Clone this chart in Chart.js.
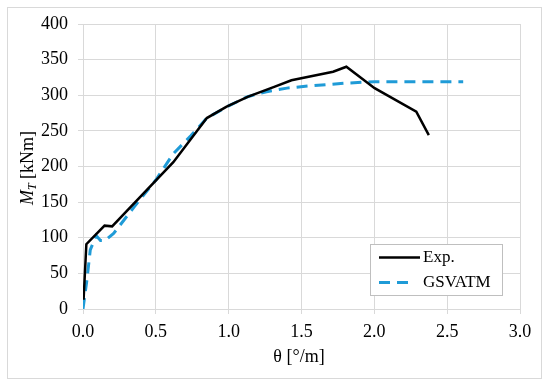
<!DOCTYPE html>
<html>
<head>
<meta charset="utf-8">
<script src="https://cdn.jsdelivr.net/npm/chart.js@4"></script>
<style>
  html, body { margin: 0; padding: 0; background: #fff; }
  #wrap { width: 550px; height: 387px; }
</style>
</head>
<body>
<div id="wrap"><canvas id="c" width="550" height="387"></canvas></div>
<script>
// rotation θ [°/m] and torque M_T [kNm]
var expTheta = [0.004, 0.023, 0.148, 0.20, 0.62, 0.85, 0.986, 1.134, 1.317, 1.431, 1.717, 1.808, 2.002, 2.288, 2.374];
var expMoment = [13, 91, 117, 116, 206, 268, 284, 298, 312, 321, 333, 340, 310, 277, 244];

var gsvTheta = [0, 0.027, 0.05, 0.09, 0.12, 0.15, 0.21, 0.35, 0.5, 0.62, 0.74, 0.85, 1.0, 1.13, 1.26, 1.4, 1.55, 1.8, 2.0, 2.3, 2.61];
var gsvMoment = [0, 41, 83, 103, 96, 96, 106, 143, 181, 218, 243, 268, 285, 298, 305, 310, 313, 317, 319, 319, 319];

var xTicks = [0, 0.5, 1.0, 1.5, 2.0, 2.5, 3.0];
var yTicks = [0, 50, 100, 150, 200, 250, 300, 350, 400];

function pts(xs, ys) {
  return xs.map(function (x, i) { return { x: x, y: ys[i] }; });
}

var serif = '"Liberation Serif", "DejaVu Serif", serif';
var gridCol = '#d9d9d9';

// frame, axis titles and legend box
var decor = {
  id: 'decor',
  afterDraw: function (chart) {
    var ctx = chart.ctx;
    ctx.save();
    ctx.strokeStyle = gridCol;
    ctx.lineWidth = 1;
    ctx.strokeRect(7.5, 7.5, 534, 371);

    // x title
    ctx.fillStyle = '#000';
    ctx.font = '18px ' + serif;
    ctx.textAlign = 'center';
    ctx.textBaseline = 'middle';
    ctx.fillText('θ [°/m]', 299, 357);

    // y title with subscript
    ctx.translate(27, 168);
    ctx.rotate(-Math.PI / 2);
    ctx.textAlign = 'left';
    ctx.textBaseline = 'alphabetic';
    var parts = [
      { t: 'M', f: 'italic 18px ' + serif, dy: 0 },
      { t: 'T', f: 'italic 12px ' + serif, dy: 3 },
      { t: ' [kNm]', f: '18px ' + serif, dy: 0 }
    ];
    var total = 0;
    parts.forEach(function (p) { ctx.font = p.f; total += ctx.measureText(p.t).width; });
    var x = -total / 2;
    parts.forEach(function (p) {
      ctx.font = p.f;
      ctx.fillText(p.t, x, 6 + p.dy);
      x += ctx.measureText(p.t).width;
    });
    ctx.restore();

    // legend
    ctx.save();
    ctx.fillStyle = '#fff';
    ctx.fillRect(370, 244, 133, 52);
    ctx.strokeStyle = '#bfbfbf';
    ctx.strokeRect(370.5, 244.5, 132, 51);
    var ds = chart.data.datasets;
    var rows = [257.5, 282.5];
    ds.forEach(function (d, i) {
      ctx.beginPath();
      ctx.strokeStyle = d.borderColor;
      ctx.lineWidth = d.borderWidth;
      ctx.setLineDash(d.borderDash || []);
      ctx.moveTo(379, rows[i]);
      ctx.lineTo(i === 0 ? 420 : 410, rows[i]);
      ctx.stroke();
      ctx.setLineDash([]);
      ctx.fillStyle = '#000';
      ctx.font = '17px ' + serif;
      ctx.textAlign = 'left';
      ctx.textBaseline = 'middle';
      ctx.fillText(d.label, 423, rows[i]);
    });
    ctx.restore();
  }
};

new Chart(document.getElementById('c'), {
  type: 'scatter',
  data: {
    datasets: [
      {
        label: 'Exp.',
        data: pts(expTheta, expMoment),
        showLine: true,
        borderColor: '#000000',
        borderWidth: 2.5,
        pointRadius: 0,
        tension: 0
      },
      {
        label: 'GSVATM',
        data: pts(gsvTheta, gsvMoment),
        showLine: true,
        borderColor: '#1f9bd7',
        borderWidth: 3,
        borderDash: [11, 7],
        pointRadius: 0,
        tension: 0
      }
    ]
  },
  options: {
    responsive: false,
    animation: false,
    layout: { padding: { left: 0, right: 30, top: 24, bottom: 0 } },
    plugins: { legend: { display: false }, tooltip: { enabled: false } },
    scales: {
      x: {
        type: 'linear',
        min: 0,
        max: 3,
        afterBuildTicks: function (s) { s.ticks = xTicks.map(function (v) { return { value: v }; }); },
        afterFit: function (s) { s.height = 78; },
        ticks: {
          color: '#000',
          font: { family: serif, size: 18 },
          padding: 7,
          maxRotation: 0,
          callback: function (v) { return Number(v).toFixed(1); }
        },
        grid: { color: gridCol, tickLength: 5, lineWidth: 1 },
        border: { color: gridCol }
      },
      y: {
        type: 'linear',
        min: 0,
        max: 400,
        afterBuildTicks: function (s) { s.ticks = yTicks.map(function (v) { return { value: v }; }); },
        afterFit: function (s) { s.width = 83; },
        ticks: {
          color: '#000',
          font: { family: serif, size: 18 },
          padding: 10
        },
        grid: { color: gridCol, tickLength: 5, lineWidth: 1 },
        border: { color: gridCol }
      }
    }
  },
  plugins: [decor]
});
</script>
</body>
</html>
